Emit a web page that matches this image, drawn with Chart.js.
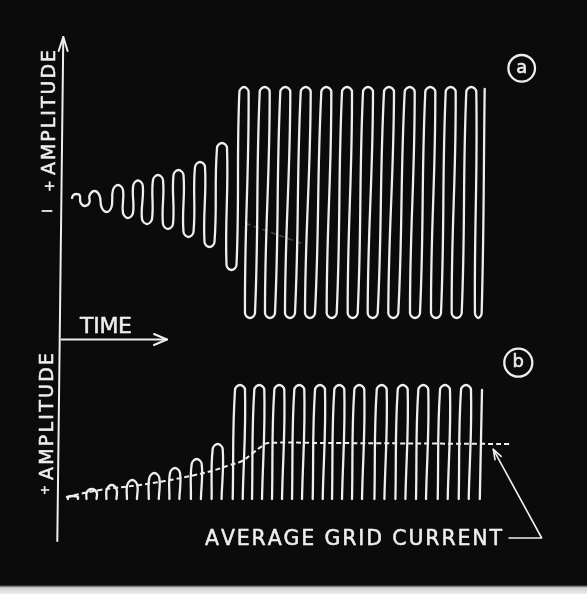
<!DOCTYPE html>
<html>
<head>
<meta charset="utf-8">
<title>Build-up of oscillation and grid current</title>
<script src="https://cdn.jsdelivr.net/npm/chart.js@4.4.1/dist/chart.umd.min.js"></script>
<style>
  html, body { margin: 0; padding: 0; background: #0b0b0b; }
  #chart { display: block; }
</style>
</head>
<body>
<canvas id="chart" width="587" height="594"></canvas>
<script>
// (a) oscillation: turning points of the trace (time from the axis, amplitude from the centre line)
const timeA = [10, 14.5, 23, 32.5, 44.5, 56, 66, 76, 85, 96, 106, 116.5, 126.5, 138, 147.5, 160, 169.5,
  182, 188, 202.7, 208, 223.3, 228, 243.7, 248, 264.3, 269.7, 285, 290.7, 306, 310.7,
  327, 331.3, 347.7, 353, 368.3, 374, 388.7, 394.7, 409.3, 416.3, 422.7];
const ampA = [4.5, 8.5, -3.5, 11.5, -9.5, 17.5, -15.5, 22, -21.5, 27.5, -26.5, 32.5, -34.5, 40.5, -44.5, 59.5, -67.5,
  115.5, -115.5, 115.5, -115.5, 115.5, -115.5, 115.5, -115.5, 115.5, -115.5, 115.5, -115.5, 115.5, -115.5,
  115.5, -115.5, 115.5, -115.5, 115.5, -115.5, 115.5, -115.5, 115.5, -115.5, 113.5];

// (a) faint dashed drift of the centre line
const driftTimeA = [184, 240];
const driftAmpA = [-21, -41];

// (b) rectified pulses: crest time and height above the base line
const timeB = [11, 29.7, 49.7, 70.3, 92.3, 113, 134.7, 155.7, 178, 197.3, 217.3, 237.3,
  258, 277.3, 297.3, 319.7, 340.7, 361.3, 383, 404];
const ampB = [3, 10, 14, 19, 26, 31, 40, 55, 114, 114, 114, 114,
  114, 114, 114, 114, 114, 114, 114, 114];
const tailTimeB = [420, 417.8];
const tailAmpB = [109, 0];

// (b) average grid current (dashed)
const avgTimeB = [4, 38, 78, 103, 133, 153, 168, 180, 191, 200, 206, 260, 448];
const avgAmpB = [2, 9, 14, 18, 24, 29, 34, 38, 46, 53, 56, 56, 55];

const INK = '#eeeeee';
const R = 5; // radius of the rounded turns

function turnPoints(times, amps) {
  const pts = [];
  const n = times.length;
  for (let i = 0; i < n; i++) {
    const t = times[i], v = amps[i];
    if (i === 0 || i === n - 1) { pts.push({x: t, y: v}); continue; }
    const s = v > amps[i - 1] ? -1 : 1;
    const dx = Math.min(R, (times[i + 1] - times[i - 1]) / 4);
    const dy = Math.min(R, 0.3 * Math.min(Math.abs(v - amps[i - 1]), Math.abs(v - amps[i + 1])));
    pts.push({x: t - dx, y: v + s * dy}, {x: t, y: v}, {x: t + dx, y: v + s * dy});
  }
  return pts;
}

function archPoints(times, amps) {
  const pts = [];
  times.forEach((t, i) => {
    const h = amps[i];
    const dy = Math.min(R, 0.35 * h);
    const lean = 0.02 * h;
    pts.push({x: t - R - lean, y: 0}, {x: t - R, y: h - dy}, {x: t, y: h},
      {x: t + R, y: h - dy}, {x: t + R - lean, y: 0}, {x: t, y: null});
  });
  return pts;
}

const zip = (xs, ys) => xs.map((x, i) => ({x, y: ys[i]}));

// text a little heavier than the regular face, like the printed lettering
function inkText(ctx, s, x, y) {
  ctx.fillText(s, x, y);
  ctx.strokeText(s, x, y);
}

function spacedText(ctx, text, x, y, width) {
  const chars = [...text];
  const natural = chars.reduce((s, c) => s + ctx.measureText(c).width, 0);
  const gap = chars.length > 1 ? (width - natural) / (chars.length - 1) : 0;
  let cx = x;
  for (const c of chars) {
    inkText(ctx, c, cx, y);
    cx += ctx.measureText(c).width + gap;
  }
}

function arrowHead(ctx, fx, fy, tx, ty, len, half) {
  const d = Math.hypot(tx - fx, ty - fy);
  const ux = (tx - fx) / d, uy = (ty - fy) / d;
  const bx = tx - ux * len, by = ty - uy * len;
  ctx.beginPath();
  ctx.moveTo(bx - uy * half, by + ux * half);
  ctx.lineTo(tx, ty);
  ctx.lineTo(bx + uy * half, by - ux * half);
  ctx.stroke();
}

const decor = {
  id: 'decor',
  beforeDraw(chart) {
    const {ctx, width, height} = chart;
    ctx.save();
    ctx.fillStyle = '#0b0b0b';
    ctx.fillRect(0, 0, width, height);
    const g = ctx.createLinearGradient(0, height - 9, 0, height);
    g.addColorStop(0, '#0b0b0b');
    g.addColorStop(0.3, '#d0d0d0');
    g.addColorStop(1, '#ececec');
    ctx.fillStyle = g;
    ctx.fillRect(0, height - 9, width, 9);
    ctx.restore();
  },
  afterDatasetsDraw(chart) {
    const {ctx} = chart;
    const x = chart.scales.x, yb = chart.scales.yb;
    const ax = x.getPixelForValue(0);
    ctx.save();
    ctx.strokeStyle = INK;
    ctx.fillStyle = INK;
    ctx.lineCap = 'round';
    ctx.lineJoin = 'round';

    // vertical axis (slightly leaning, as printed) with arrow at the top
    ctx.lineWidth = 2;
    ctx.beginPath();
    ctx.moveTo(ax + 1.3, 37);
    ctx.lineTo(ax - 4.7, 541);
    ctx.stroke();
    arrowHead(ctx, ax + 0.2, 130, ax + 1.3, 37, 14, 4.5);

    // time arrow
    const ty = 339.5;
    ctx.beginPath();
    ctx.moveTo(ax - 0.5, ty);
    ctx.lineTo(x.getPixelForValue(105), ty);
    ctx.stroke();
    arrowHead(ctx, ax, ty, x.getPixelForValue(105), ty, 13, 5.5);

    // labels
    ctx.lineWidth = 0.5;
    ctx.textBaseline = 'alphabetic';
    ctx.textAlign = 'left';
    ctx.font = '22px "DejaVu Sans"';
    spacedText(ctx, 'TIME', 80, 333, 52);

    ctx.font = '20.5px "DejaVu Sans"';
    spacedText(ctx, 'AVERAGE GRID CURRENT', 205, 544.5, 297);

    // rotated amplitude labels
    ctx.save();
    ctx.translate(55, 175);
    ctx.rotate(-Math.PI / 2);
    ctx.font = '19px "DejaVu Sans"';
    spacedText(ctx, 'AMPLITUDE', 0, 0, 125);
    ctx.restore();

    ctx.save();
    ctx.translate(54, 192);
    ctx.rotate(-Math.PI / 2);
    ctx.font = '14px "DejaVu Sans"';
    inkText(ctx, '+', 0, 0);
    ctx.restore();

    ctx.save();
    ctx.translate(52, 213);
    ctx.rotate(-Math.PI / 2);
    ctx.font = '14px "DejaVu Sans"';
    inkText(ctx, 'I', 0, 0);
    ctx.restore();

    ctx.save();
    ctx.translate(52.5, 480);
    ctx.rotate(-Math.PI / 2);
    ctx.font = '19px "DejaVu Sans"';
    spacedText(ctx, 'AMPLITUDE', 0, 0, 127);
    ctx.restore();

    ctx.save();
    ctx.translate(49, 495);
    ctx.rotate(-Math.PI / 2);
    ctx.font = '12px "DejaVu Sans"';
    inkText(ctx, '+', 0, 0);
    ctx.restore();

    // pointer to the average line
    ctx.lineWidth = 1.6;
    const tipX = x.getPixelForValue(431.3), tipY = yb.getPixelForValue(49.7);
    ctx.beginPath();
    ctx.moveTo(509, 538);
    ctx.lineTo(541.7, 538);
    ctx.lineTo(tipX, tipY);
    ctx.stroke();
    arrowHead(ctx, 541.7, 538, tipX, tipY, 10, 3.5);

    // circled panel letters
    ctx.lineWidth = 2.3;
    ctx.textAlign = 'center';
    ctx.textBaseline = 'middle';
    [['a', 521.7, 68.3, 13.3], ['b', 518.3, 362.7, 14]].forEach(([s, cx, cy, r]) => {
      ctx.beginPath();
      ctx.arc(cx, cy, r, 0, Math.PI * 2);
      ctx.stroke();
      ctx.save();
      ctx.lineWidth = 0.6;
      ctx.font = '18px "DejaVu Sans"';
      inkText(ctx, s, cx, cy);
      ctx.restore();
    });
    ctx.restore();
  }
};

const lineStyle = {
  borderColor: INK,
  borderWidth: 2.3,
  pointRadius: 0,
  tension: 0.4,
  fill: false,
  borderCapStyle: 'round',
  borderJoinStyle: 'round'
};

new Chart(document.getElementById('chart'), {
  type: 'line',
  data: {
    datasets: [
      Object.assign({label: 'Oscillation (a)', yAxisID: 'ya', data: turnPoints(timeA, ampA)}, lineStyle),
      Object.assign({}, lineStyle, {label: 'Drift (a)', yAxisID: 'ya', data: zip(driftTimeA, driftAmpA),
        borderColor: 'rgba(200,200,200,0.3)', borderWidth: 1.6, borderDash: [4, 5], tension: 0}),
      Object.assign({label: 'Grid current (b)', yAxisID: 'yb', data: archPoints(timeB, ampB), spanGaps: false}, lineStyle),
      Object.assign({}, lineStyle, {label: 'Last pulse (b)', yAxisID: 'yb', data: zip(tailTimeB, tailAmpB), tension: 0}),
      Object.assign({}, lineStyle, {label: 'Average grid current', yAxisID: 'yb', data: zip(avgTimeB, avgAmpB),
        borderWidth: 2, borderDash: [5, 3], borderCapStyle: 'butt'})
    ]
  },
  options: {
    responsive: false,
    animation: false,
    events: [],
    layout: {padding: 0},
    plugins: {legend: {display: false}, tooltip: {enabled: false}},
    scales: {
      x: {type: 'linear', min: -62, max: 525, display: false},
      ya: {type: 'linear', min: -391.5, max: 202.5, display: false},
      yb: {type: 'linear', min: -95, max: 499, display: false}
    }
  },
  plugins: [decor]
});
</script>
</body>
</html>
